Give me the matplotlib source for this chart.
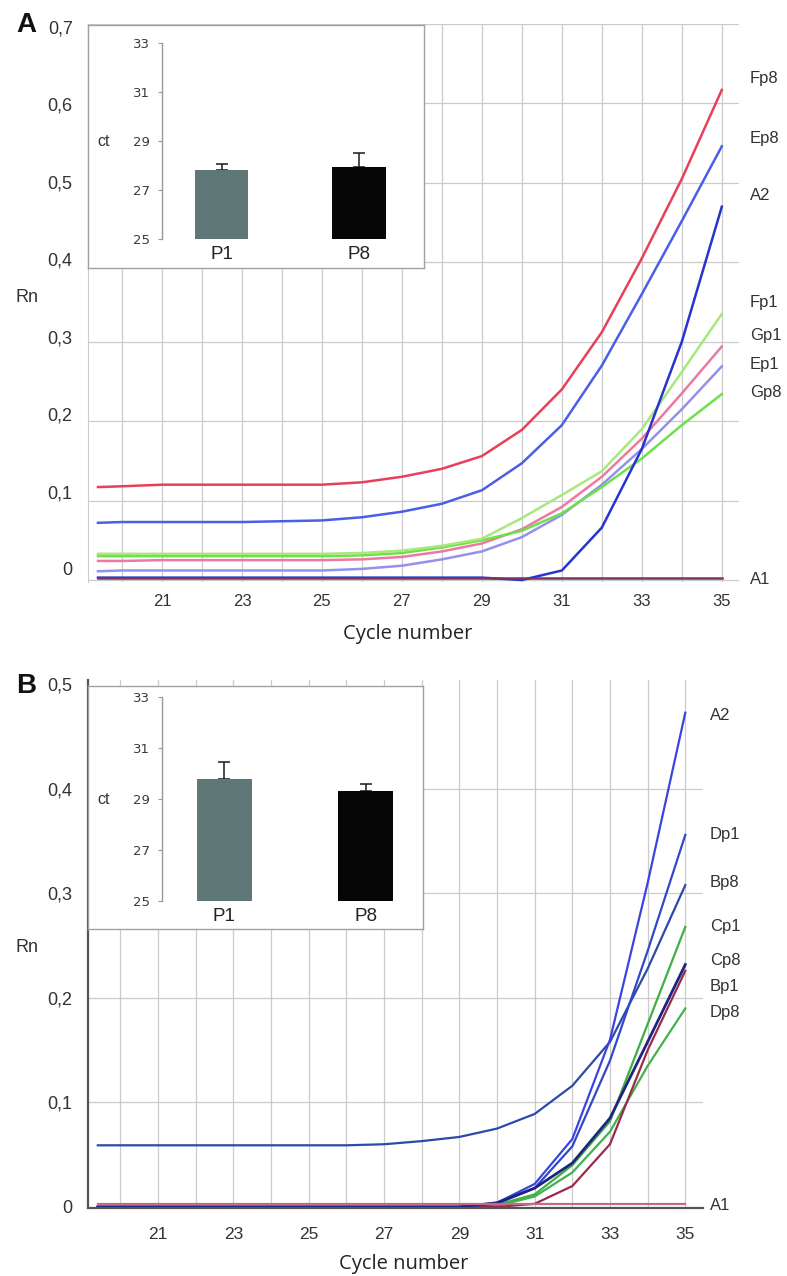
import matplotlib
matplotlib.use("Agg")
import matplotlib.pyplot as plt

plt.rcParams['font.family'] = ['Liberation Sans', 'DejaVu Sans']

# ---------------- data ----------------
cycles = [19.4, 20, 21, 22, 23, 24, 25, 26, 27, 28, 29, 30, 31, 32, 33, 34, 35]

# Panel A amplification curves (Rn)
a_Fp8 = [0.117, 0.118, 0.120, 0.120, 0.120, 0.120, 0.120, 0.123, 0.130, 0.140, 0.156, 0.189, 0.240, 0.312, 0.405, 0.505, 0.617]
a_Ep8 = [0.072, 0.073, 0.073, 0.073, 0.073, 0.074, 0.075, 0.079, 0.086, 0.096, 0.113, 0.147, 0.195, 0.270, 0.360, 0.452, 0.546]
a_A2  = [0.003, 0.003, 0.003, 0.003, 0.003, 0.003, 0.003, 0.003, 0.003, 0.003, 0.003, 0.000, 0.012, 0.066, 0.165, 0.300, 0.470]
a_Fp1 = [0.033, 0.033, 0.033, 0.033, 0.033, 0.033, 0.033, 0.034, 0.037, 0.043, 0.052, 0.078, 0.107, 0.137, 0.190, 0.262, 0.335]
a_Gp1 = [0.024, 0.024, 0.025, 0.025, 0.025, 0.025, 0.025, 0.026, 0.029, 0.036, 0.046, 0.064, 0.092, 0.130, 0.178, 0.235, 0.294]
a_Ep1 = [0.011, 0.012, 0.012, 0.012, 0.012, 0.012, 0.012, 0.014, 0.018, 0.026, 0.036, 0.054, 0.082, 0.120, 0.165, 0.215, 0.269]
a_Gp8 = [0.030, 0.030, 0.030, 0.030, 0.030, 0.030, 0.030, 0.031, 0.034, 0.041, 0.050, 0.062, 0.084, 0.117, 0.153, 0.195, 0.234]
a_A1  = [0.003, 0.003, 0.003, 0.003, 0.003, 0.003, 0.003, 0.003, 0.003, 0.003, 0.003, 0.003, 0.003, 0.003, 0.003, 0.003, 0.003]

# Panel B amplification curves (Rn)
b_A2  = [0.0, 0.0, 0.0, 0.0, 0.0, 0.0, 0.0, 0.0, 0.0, 0.0, 0.0, 0.004, 0.022, 0.065, 0.160, 0.310, 0.473]
b_Dp1 = [0.0, 0.0, 0.0, 0.0, 0.0, 0.0, 0.0, 0.0, 0.0, 0.0, 0.0, 0.003, 0.018, 0.058, 0.140, 0.245, 0.356]
b_Bp8 = [0.059, 0.059, 0.059, 0.059, 0.059, 0.059, 0.059, 0.059, 0.060, 0.063, 0.067, 0.075, 0.089, 0.116, 0.158, 0.228, 0.308]
b_Cp1 = [0.0, 0.0, 0.0, 0.0, 0.0, 0.0, 0.0, 0.0, 0.0, 0.0, 0.0, 0.002, 0.012, 0.040, 0.082, 0.175, 0.268]
b_Cp8 = [0.0, 0.0, 0.0, 0.0, 0.0, 0.0, 0.0, 0.0, 0.0, 0.0, 0.0, 0.004, 0.018, 0.042, 0.085, 0.158, 0.232]
b_Bp1 = [0.0, 0.0, 0.0, 0.0, 0.0, 0.0, 0.0, 0.0, 0.0, 0.0, 0.0, 0.0, 0.003, 0.020, 0.060, 0.150, 0.226]
b_Dp8 = [0.0, 0.0, 0.0, 0.0, 0.0, 0.0, 0.0, 0.0, 0.0, 0.0, 0.0, 0.001, 0.010, 0.033, 0.072, 0.135, 0.190]
b_A1  = [0.003, 0.003, 0.003, 0.003, 0.003, 0.003, 0.003, 0.003, 0.003, 0.003, 0.003, 0.003, 0.003, 0.003, 0.003, 0.003, 0.003]

# Inset bar charts (ct)
bar_labels = ['P1', 'P8']
a_ct = [27.8, 27.95]
a_ct_err = [0.25, 0.55]
b_ct = [29.78, 29.31]
b_ct_err = [0.67, 0.28]

rn_ticks = [0, 0.1, 0.2, 0.3, 0.4, 0.5, 0.6, 0.7]
rn_ticklabels = ['0', '0,1', '0,2', '0,3', '0,4', '0,5', '0,6', '0,7']
cycle_ticks = [21, 23, 25, 27, 29, 31, 33, 35]
ct_ticks = [25, 27, 29, 31, 33]

# ---------------- styling ----------------
W, H = 787, 1276
fig = plt.figure(figsize=(W / 100, H / 100), dpi=100)


def fr(x0, y0, x1, y1):
    return [x0 / W, 1 - y1 / H, (x1 - x0) / W, (y1 - y0) / H]


GRID = '#cbcbcb'
TXT = '#333333'

series_A = [
    ('Ep1', a_Ep1, '#9590ec'), ('Gp1', a_Gp1, '#ec7aa0'), ('Gp8', a_Gp8, '#6ee04a'),
    ('Fp1', a_Fp1, '#a8e87c'), ('A2', a_A2, '#2833d0'), ('Ep8', a_Ep8, '#4a5fe6'),
    ('Fp8', a_Fp8, '#e8405a'), ('A1', a_A1, '#7a3560'),
]
labels_A = [('Fp8', 78), ('Ep8', 139), ('A2', 195), ('Fp1', 302), ('Gp1', 335),
            ('Ep1', 364), ('Gp8', 393), ('A1', 580)]

series_B = [
    ('Bp8', b_Bp8, '#2c4aa8'), ('Dp8', b_Dp8, '#45b050'), ('Cp1', b_Cp1, '#3fae45'),
    ('Bp1', b_Bp1, '#9a2a4a'), ('Dp1', b_Dp1, '#3348c8'), ('A2', b_A2, '#3a45e0'),
    ('Cp8', b_Cp8, '#1e2580'), ('A1', b_A1, '#c06a8c'),
]
labels_B = [('A2', 716), ('Dp1', 835), ('Bp8', 883), ('Cp1', 926), ('Cp8', 961),
            ('Bp1', 986), ('Dp8', 1012), ('A1', 1205)]


def style_main(ax, xlim, ylim):
    ax.set_xlim(*xlim)
    ax.set_ylim(*ylim)
    ax.set_axisbelow(True)
    ax.set_xticks(cycle_ticks)
    ax.set_xticks(list(range(20, 36)), minor=True)
    ax.grid(True, which='both', axis='x', color=GRID, lw=0.9)
    ax.grid(True, which='major', axis='y', color=GRID, lw=0.9)
    ax.tick_params(which='both', length=0)
    ax.tick_params(axis='x', labelsize=12, labelcolor=TXT)
    for s in ['top', 'right', 'bottom']:
        ax.spines[s].set_visible(False)


# ---------------- panel A ----------------
axA = fig.add_axes(fr(88, 24, 739, 582))
style_main(axA, (19.15, 35.43), (-0.0025, 0.7))
axA.set_yticks(rn_ticks)
axA.set_yticklabels([])
axA.spines['left'].set_color(GRID)
axA.tick_params(axis='x', pad=9)
for name, vals, col in series_A:
    axA.plot(cycles, vals, color=col, lw=1.8, solid_joinstyle='round')

# tick labels of panel A sit on a slightly different scale than its grid
axA2 = axA.twinx()
axA2.set_ylim(-0.0168, 0.7039)
axA2.yaxis.tick_left()
axA2.set_yticks(rn_ticks)
axA2.set_yticklabels(rn_ticklabels)
axA2.tick_params(axis='y', length=0, pad=11, labelsize=13, labelcolor=TXT)
for s in axA2.spines.values():
    s.set_visible(False)

for lab, ypx in labels_A:
    fig.text(750 / W, 1 - ypx / H, lab, fontsize=12, color=TXT, va='center', ha='left')

fig.text(26 / W, 1 - 25 / H, 'A', fontsize=20, fontweight='bold', ha='center', va='center', color='#111')
fig.text(27 / W, 1 - 297 / H, 'Rn', fontsize=13, ha='center', va='center', color=TXT)
fig.text(408 / W, 1 - 634 / H, 'Cycle number', fontsize=14.5, family='Open Sans', ha='center', va='center', color='#222')

# ---------------- panel B ----------------
axB = fig.add_axes(fr(88, 680, 703, 1208))
style_main(axB, (19.14, 35.47), (-0.001, 0.5043))
axB.set_yticks(rn_ticks[:6])
axB.set_yticklabels(rn_ticklabels[:6])
axB.tick_params(axis='y', pad=11, labelsize=13, labelcolor=TXT)
axB.tick_params(axis='x', pad=14, labelsize=12.5)
axB.get_ygridlines()[-1].set_visible(False)
axB.get_ygridlines()[0].set_visible(False)
axB.spines['left'].set_color('#555555')
axB.spines['left'].set_linewidth(1.6)
axB.spines['bottom'].set_visible(True)
axB.spines['bottom'].set_color('#555555')
axB.spines['bottom'].set_linewidth(1.6)
for name, vals, col in series_B:
    axB.plot(cycles, vals, color=col, lw=2.0 if name == 'Cp8' else 1.6, solid_joinstyle='round')

for lab, ypx in labels_B:
    fig.text(710 / W, 1 - ypx / H, lab, fontsize=12, color=TXT, va='center', ha='left')

fig.text(26 / W, 1 - 686 / H, 'B', fontsize=20, fontweight='bold', ha='center', va='center', color='#111')
fig.text(27 / W, 1 - 948 / H, 'Rn', fontsize=13, ha='center', va='center', color=TXT)
fig.text(404 / W, 1 - 1264 / H, 'Cycle number', fontsize=14.5, family='Open Sans', ha='center', va='center', color='#222')


# ---------------- insets ----------------
def inset(box, barbox, xlim, vals, errs):
    bx = fig.add_axes(fr(*box))
    bx.set_zorder(5)
    bx.set_facecolor('white')
    bx.set_xticks([])
    bx.set_yticks([])
    for s in bx.spines.values():
        s.set_color('#a0a0a0')
        s.set_linewidth(1.0)

    ax = fig.add_axes(fr(*barbox))
    ax.set_zorder(6)
    ax.patch.set_visible(False)
    xs = list(range(len(bar_labels)))
    ax.bar(xs, [v - 25 for v in vals], bottom=25, width=0.39,
           color=['#5f7777', '#060606'], edgecolor='none', zorder=2)
    ax.errorbar(xs, vals, yerr=[[0] * len(errs), errs], fmt='none', ecolor='#1a1a1a',
                elinewidth=1.1, capsize=4, capthick=1.1, zorder=1)
    ax.set_xlim(*xlim)
    ax.set_ylim(25, 33)
    ax.set_yticks(ct_ticks)
    ax.set_yticklabels([str(t) for t in ct_ticks], family='DejaVu Sans', fontsize=9.5, color='#3a3a3a')
    ax.set_xticks(xs)
    ax.set_xticklabels(bar_labels, fontsize=13.5, color='#222')
    ax.tick_params(axis='x', length=0, pad=5)
    ax.tick_params(axis='y', direction='out', length=3, color='#999', pad=6)
    for s in ['top', 'right', 'bottom']:
        ax.spines[s].set_visible(False)
    ax.spines['left'].set_color('#999')
    ax.spines['left'].set_linewidth(1.0)
    ax.set_ylabel('ct', rotation=0, fontsize=11.5, color='#333', va='center', ha='center')
    wpx = (barbox[2] - barbox[0])
    ax.yaxis.set_label_coords((104 - barbox[0]) / wpx, 0.5)
    return ax


inset((88, 25, 424, 268), (162, 43, 418.5, 239), (-0.433, 1.433), a_ct, a_ct_err)
inset((88, 686, 423, 929), (162, 697, 428, 901), (-0.44, 1.44), b_ct, b_ct_err)

fig.savefig('out.png', dpi=100, facecolor='white')
